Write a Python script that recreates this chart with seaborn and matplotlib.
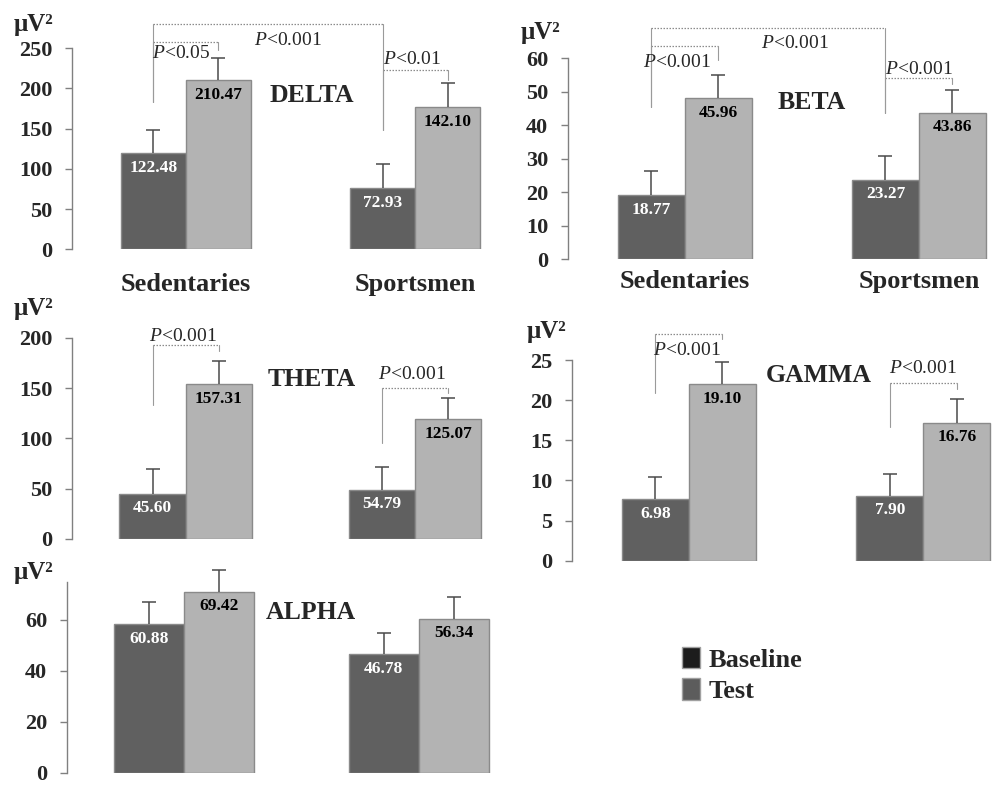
import numpy as np
import pandas as pd
import seaborn as sns
import matplotlib.pyplot as plt
from matplotlib.patches import Patch

groups = ['Sedentaries', 'Sportsmen']
conditions = ['Baseline', 'Test']

# bar heights as drawn, upper error bar lengths, printed values
delta_base = [119.8, 75.9]
delta_test = [210.6, 177.0]
delta_base_err = [28.6, 29.8]
delta_test_err = [27.0, 30.2]
delta_base_lbl = ['122.48', '72.93']
delta_test_lbl = ['210.47', '142.10']

beta_base = [19.2, 23.7]
beta_test = [48.1, 43.7]
beta_base_err = [7.1, 7.2]
beta_test_err = [6.9, 6.7]
beta_base_lbl = ['18.77', '23.27']
beta_test_lbl = ['45.96', '43.86']

theta_base = [45.0, 49.0]
theta_test = [154.0, 119.2]
theta_base_err = [24.2, 22.5]
theta_test_err = [23.2, 21.2]
theta_base_lbl = ['45.60', '54.79']
theta_test_lbl = ['157.31', '125.07']

gamma_base = [7.68, 8.1]
gamma_test = [22.0, 17.2]
gamma_base_err = [2.72, 2.7]
gamma_test_err = [2.8, 2.9]
gamma_base_lbl = ['6.98', '7.90']
gamma_test_lbl = ['19.10', '16.76']

alpha_base = [58.4, 46.6]
alpha_test = [71.0, 60.5]
alpha_base_err = [8.5, 8.3]
alpha_test_err = [8.6, 8.6]
alpha_base_lbl = ['60.88', '46.78']
alpha_test_lbl = ['69.42', '56.34']

# significance brackets: (bar from, bar to, top, left leg end, right leg end)
# bar = (condition index, group index)
delta_brackets = [((0, 0), (0, 1), 279.9, 183.6, 148.4),
                  ((0, 0), (1, 0), 257.5, 183.6, 247.9),
                  ((0, 1), (1, 1), 223.0, 148.4, 210.6)]
delta_pvals = [(-0.022, 243.8, 'P<0.05'), (0.444, 260.3, 'P<0.001'), (0.987, 236.3, 'P<0.01')]
beta_brackets = [((0, 0), (0, 1), 69.1, 45.6, 43.8),
                 ((0, 0), (1, 0), 63.7, 45.6, 59.5),
                 ((0, 1), (1, 1), 54.2, 43.8, 52.2)]
beta_pvals = [(-0.035, 58.7, 'P<0.001'), (0.470, 64.5, 'P<0.001'), (1.0, 56.8, 'P<0.001')]
theta_brackets = [((0, 0), (1, 0), 192.7, 133.1, 186.8),
                  ((0, 1), (1, 1), 149.7, 95.1, 145.0)]
theta_pvals = [(-0.013, 201.0, 'P<0.001'), (0.987, 163.6, 'P<0.001')]
gamma_brackets = [((0, 0), (1, 0), 28.24, 20.9, 27.6),
                  ((0, 1), (1, 1), 22.1, 16.7, 21.35)]
gamma_pvals = [(-0.01, 26.2, 'P<0.001'), (1.0, 23.9, 'P<0.001')]

BASE_C = '#606060'
TEST_C = '#b3b3b3'
EDGE_C = '#8a8a8a'
SERIF = 'Liberation Serif'

sns.set_style('white')
plt.rcParams['font.family'] = [SERIF, 'DejaVu Serif']
plt.rcParams['mathtext.fontset'] = 'custom'
plt.rcParams['mathtext.it'] = 'Liberation Serif:italic'
plt.rcParams['mathtext.rm'] = 'Liberation Serif'

fig = plt.figure(figsize=(10, 7.87), dpi=100)


def rect(l, t, r, b):
    return [l / 1000, 1 - b / 787, (r - l) / 1000, (b - t) / 787]


def panel(box, xlim, ylim, yticks, width, base, test, base_err, test_err,
          base_lbl, test_lbl, title, title_xy, brackets=(), pvals=(),
          xlabels=False, xpad=0, unit_xy=None):
    ax = fig.add_axes(rect(*box))
    df = pd.DataFrame({
        'group': groups * 2,
        'condition': [conditions[0]] * 2 + [conditions[1]] * 2,
        'value': base + test,
    })
    sns.barplot(data=df, x='group', y='value', hue='condition', order=groups,
                hue_order=conditions, palette=[BASE_C, TEST_C], width=width,
                saturation=1, edgecolor=EDGE_C, linewidth=1, errorbar=None,
                legend=False, ax=ax)
    errs = [base_err, test_err]
    lbls = [base_lbl, test_lbl]
    centers = {}
    bar_conts = list(ax.containers)
    for ci, cont in enumerate(bar_conts):
        for gi, bar in enumerate(cont):
            x = bar.get_x() + bar.get_width() / 2
            h = bar.get_height()
            centers[(ci, gi)] = x
            eb = ax.errorbar(x, h, yerr=[[0], [errs[ci][gi]]], fmt='none',
                             ecolor='#4a4a4a', elinewidth=1.1, capsize=4.8,
                             capthick=1.1, clip_on=False, zorder=1)
            eb[1][0].set_visible(False)  # only the upper cap
            ax.annotate(lbls[ci][gi], (x, h), xytext=(0, -10.5),
                        textcoords='offset points', ha='center', va='center',
                        fontsize=12.5, fontweight='bold',
                        color='white' if ci == 0 else 'black')
    for a, b, top, yl, yr in brackets:
        xa, xb = centers[a], centers[b]
        ax.plot([xa, xb], [top, top], color='#8c8c8c', lw=0.9,
                ls=(0, (1.2, 1.2)), clip_on=False)
        ax.plot([xa, xa], [yl, top], color='#9a9a9a', lw=0.8, clip_on=False)
        ax.plot([xb, xb], [yr, top], color='#9a9a9a', lw=0.8, clip_on=False)
    for x, y, s in pvals:
        ax.text(x, y, '$P$' + s[1:], ha='center', va='center', fontsize=14)
    ax.text(title_xy[0], title_xy[1], title, ha='center', va='center',
            fontsize=18.5, fontweight='bold')
    ax.set_xlim(*xlim)
    ax.set_ylim(*ylim)
    ax.set_yticks(yticks)
    ax.set_xlabel('')
    ax.set_ylabel('')
    for s in ['top', 'right', 'bottom']:
        ax.spines[s].set_visible(False)
    ax.spines['left'].set_color('#808080')
    ax.spines['left'].set_linewidth(1)
    ax.tick_params(axis='y', left=True, direction='out', length=5, width=1,
                   color='#808080', pad=9)
    for t in ax.get_yticklabels():
        t.set_fontsize(16)
        t.set_fontweight('bold')
    ax.tick_params(axis='x', bottom=False, length=0, pad=xpad)
    if xlabels:
        for t in ax.get_xticklabels():
            t.set_fontsize(19)
            t.set_fontweight('bold')
    else:
        ax.set_xticklabels([])
    fig.text(unit_xy[0] / 1000, 1 - unit_xy[1] / 787, 'μV²', ha='left',
             va='center', fontsize=18, fontweight='bold')
    return ax


panel((72, 48.3, 530, 249.3), (-0.497, 1.5), (0, 250), [0, 50, 100, 150, 200, 250],
      0.567, delta_base, delta_test, delta_base_err, delta_test_err,
      delta_base_lbl, delta_test_lbl, 'DELTA', (0.547, 190.7),
      delta_brackets, delta_pvals, xlabels=True, xpad=17, unit_xy=(14, 24))
panel((567.7, 58.3, 998, 259.3), (-0.501, 1.338), (0, 60), [0, 10, 20, 30, 40, 50, 60],
      0.573, beta_base, beta_test, beta_base_err, beta_test_err,
      beta_base_lbl, beta_test_lbl, 'BETA', (0.541, 46.7),
      beta_brackets, beta_pvals, xlabels=True, xpad=8, unit_xy=(521, 32))
panel((71.7, 337.7, 529.6, 539), (-0.497, 1.5), (0, 200), [0, 50, 100, 150, 200],
      0.578, theta_base, theta_test, theta_base_err, theta_test_err,
      theta_base_lbl, theta_test_lbl, 'THETA', (0.549, 158.7),
      theta_brackets, theta_pvals, unit_xy=(14, 309))
panel((571.7, 360, 998, 560.7), (-0.5, 1.319), (0, 25), [0, 5, 10, 15, 20, 25],
      0.572, gamma_base, gamma_test, gamma_base_err, gamma_test_err,
      gamma_base_lbl, gamma_test_lbl, 'GAMMA', (0.555, 23.1),
      gamma_brackets, gamma_pvals, unit_xy=(527, 332))
panel((66.7, 581.7, 536, 773), (-0.501, 1.5), (0, 75), [0, 20, 40, 60],
      0.597, alpha_base, alpha_test, alpha_base_err, alpha_test_err,
      alpha_base_lbl, alpha_test_lbl, 'ALPHA', (0.542, 63.1),
      unit_xy=(14, 573))

handles = [Patch(facecolor='#1c1c1c', edgecolor='#a0a0a0'),
           Patch(facecolor='#5c5c5c', edgecolor='#a0a0a0')]
fig.legend(handles, conditions, loc='upper left',
           bbox_to_anchor=(681.7 / 1000, 1 - 647 / 787), frameon=False,
           borderpad=0, borderaxespad=0, handlelength=0.68, handleheight=0.87,
           handletextpad=0.35, labelspacing=0.25,
           prop={'family': SERIF, 'weight': 'bold', 'size': 19})

fig.savefig('out.png', dpi=100)
